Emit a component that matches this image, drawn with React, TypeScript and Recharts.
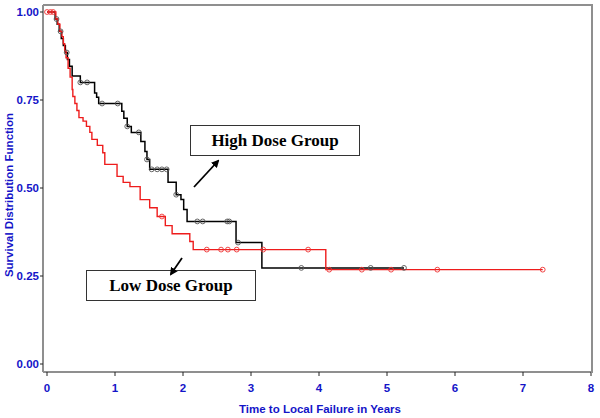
import { ComposedChart, Line, Scatter, XAxis, YAxis } from 'recharts';

// Kaplan-Meier step points (time in years, survival)
const highT = [0, 0.12, 0.15, 0.18, 0.21, 0.24, 0.27, 0.30, 0.33, 0.37, 0.49, 0.70, 0.73, 0.76, 1.10, 1.13, 1.18, 1.24, 1.38, 1.44, 1.47, 1.51, 1.78, 1.90, 1.97, 2.01, 2.06, 2.78, 3.16, 5.25];
const highS = [1.0, 0.98, 0.965, 0.945, 0.925, 0.905, 0.885, 0.865, 0.846, 0.818, 0.80, 0.77, 0.758, 0.74, 0.718, 0.698, 0.675, 0.658, 0.632, 0.604, 0.581, 0.553, 0.516, 0.481, 0.467, 0.439, 0.405, 0.345, 0.273, 0.273];

const lowT = [0, 0.13, 0.16, 0.19, 0.22, 0.24, 0.26, 0.28, 0.31, 0.34, 0.37, 0.38, 0.41, 0.44, 0.47, 0.53, 0.58, 0.63, 0.66, 0.74, 0.82, 0.85, 1.03, 1.12, 1.22, 1.37, 1.51, 1.62, 1.74, 1.84, 2.10, 2.15, 4.10, 7.29];
const lowS = [1.0, 0.98, 0.965, 0.945, 0.93, 0.91, 0.89, 0.87, 0.84, 0.815, 0.78, 0.76, 0.74, 0.72, 0.70, 0.69, 0.675, 0.658, 0.638, 0.621, 0.60, 0.567, 0.533, 0.516, 0.504, 0.467, 0.444, 0.419, 0.393, 0.37, 0.348, 0.325, 0.268, 0.268];

// censored observations
const highCensor = [0.14, 0.2, 0.29, 0.49, 0.59, 0.81, 1.04, 1.18, 1.35, 1.47, 1.54, 1.62, 1.69, 1.76, 1.90, 2.21, 2.29, 2.65, 2.68, 2.81, 3.74, 4.76, 5.25];
const lowCensor = [0, 0.05, 0.09, 1.69, 2.35, 2.56, 2.66, 2.79, 3.18, 3.84, 4.15, 4.63, 5.06, 5.74, 7.29];

const xTicks = [0, 1, 2, 3, 4, 5, 6, 7, 8];
const yTicks = [0, 0.25, 0.5, 0.75, 1];

const BLUE = '#1414c8';
const AXIS = '#8f8f8f';

const toSteps = (ts: number[], ss: number[]) => ts.map((t, i) => ({ t, s: ss[i] }));

// survival level of the step curve at time t
const levelAt = (ts: number[], ss: number[], t: number) => {
  let s = ss[0];
  ts.forEach((tt, i) => { if (tt <= t) s = ss[i]; });
  return s;
};

const highData = toSteps(highT, highS);
const lowData = toSteps(lowT, lowS);
const highMarks = highCensor.map(t => ({ t, s: levelAt(highT, highS, t) }));
const lowMarks = lowCensor.map(t => ({ t, s: levelAt(lowT, lowS, t) }));

const ring = (color: string) => (p: any) => (
  <circle cx={p.cx} cy={p.cy} r={2.4} fill="none" stroke={color} strokeWidth={0.9} />
);

const tickFont = { fill: BLUE, fontSize: 11.5, fontWeight: 700, fontFamily: 'Liberation Sans, Arial, sans-serif' };

export default function App() {
  return (
    <div style={{ position: 'absolute', left: 0, top: 0, width: 600, height: 418, background: '#fff' }}>
      <ComposedChart width={600} height={418} margin={{ top: 5, right: 7, bottom: 0, left: 0 }}>
        <XAxis
          dataKey="t" type="number" domain={[0, 8]} ticks={xTicks} padding={{ left: 4, right: 2 }}
          height={46} tick={tickFont} tickSize={4} tickMargin={8}
          axisLine={{ stroke: AXIS, strokeWidth: 2 }} tickLine={{ stroke: '#222' }}
        />
        <YAxis
          dataKey="s" type="number" domain={[0, 1]} ticks={yTicks} padding={{ top: 7, bottom: 8 }}
          width={43} tick={tickFont} tickSize={3} tickMargin={1}
          tickFormatter={(v: number) => v.toFixed(2)}
          axisLine={{ stroke: AXIS, strokeWidth: 2 }} tickLine={{ stroke: '#222' }}
        />
        <Line data={highData} dataKey="s" type="stepAfter" stroke="#000" strokeWidth={1.5} dot={false} isAnimationActive={false} />
        <Scatter data={highMarks} dataKey="s" shape={ring('#555')} isAnimationActive={false} />
        <Line data={lowData} dataKey="s" type="stepAfter" stroke="#ee1c1c" strokeWidth={1.4} dot={false} isAnimationActive={false} />
        <Scatter data={lowMarks} dataKey="s" shape={ring('#ee3333')} isAnimationActive={false} />
      </ComposedChart>

      {/* frame top / right */}
      <div style={{ position: 'absolute', left: 43, top: 4, width: 548, height: 367, borderTop: `2px solid ${AXIS}`, borderRight: `2px solid ${AXIS}` }} />

      {/* axis titles */}
      <div style={{ position: 'absolute', left: 0, top: 403, width: 640, textAlign: 'center', color: BLUE, fontSize: 11.5, fontWeight: 700, fontFamily: 'Liberation Sans, Arial, sans-serif' }}>
        Time to Local Failure in Years
      </div>
      <div style={{ position: 'absolute', left: 9, top: 195, width: 0, height: 0 }}>
        <div style={{ position: 'absolute', transform: 'translate(-50%, -50%) rotate(-90deg)', whiteSpace: 'nowrap', color: BLUE, fontSize: 11.5, fontWeight: 700, fontFamily: 'Liberation Sans, Arial, sans-serif' }}>
          Survival Distribution Function
        </div>
      </div>

      {/* group labels */}
      <div style={{ position: 'absolute', left: 190, top: 125, width: 168, height: 29, border: '1.5px solid #333', background: '#fff', display: 'flex', alignItems: 'center', justifyContent: 'center', fontFamily: 'Liberation Serif, Times New Roman, serif', fontWeight: 700, fontSize: 17 }}>
        High Dose Group
      </div>
      <div style={{ position: 'absolute', left: 86, top: 270, width: 168, height: 29, border: '1.5px solid #333', background: '#fff', display: 'flex', alignItems: 'center', justifyContent: 'center', fontFamily: 'Liberation Serif, Times New Roman, serif', fontWeight: 700, fontSize: 17 }}>
        Low Dose Group
      </div>
      <svg width={600} height={418} style={{ position: 'absolute', left: 0, top: 0, pointerEvents: 'none' }}>
        <defs>
          <marker id="ah" markerWidth="8" markerHeight="8" refX="6" refY="4" orient="auto" markerUnits="userSpaceOnUse">
            <path d="M0,0 L8,4 L0,8 z" fill="#000" />
          </marker>
        </defs>
        <line x1={194} y1={187} x2={218} y2={161} stroke="#000" strokeWidth={1.8} markerEnd="url(#ah)" />
        <line x1={182} y1={258} x2={171} y2={274} stroke="#000" strokeWidth={1.8} markerEnd="url(#ah)" />
      </svg>
    </div>
  );
}
